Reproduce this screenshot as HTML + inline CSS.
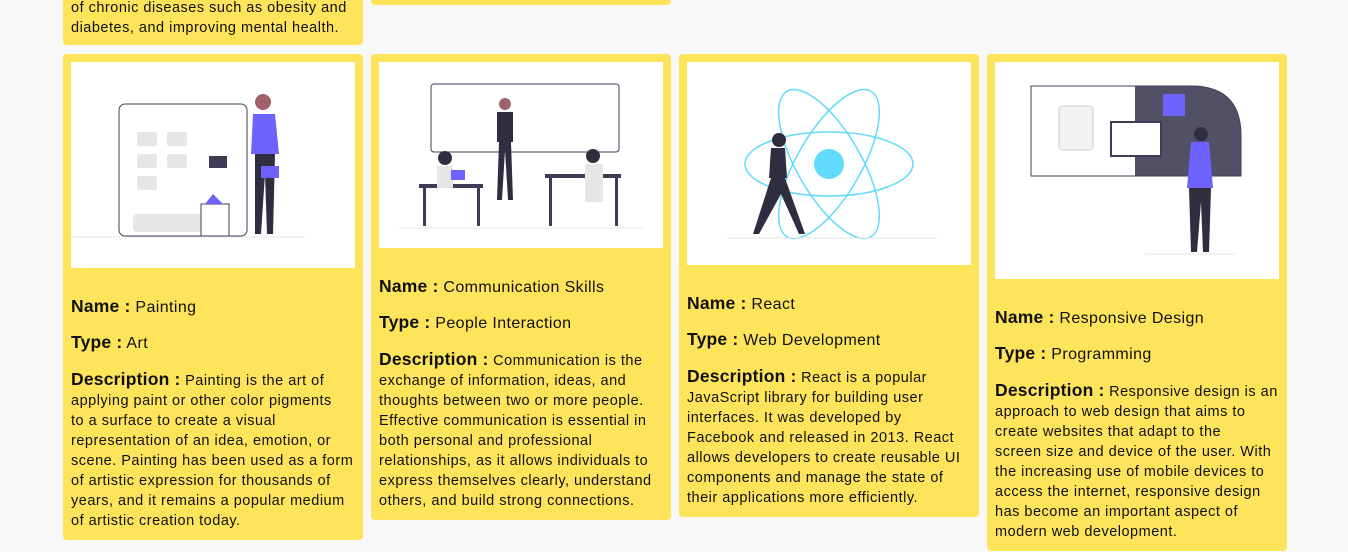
<!DOCTYPE html>
<html><head><meta charset="utf-8"><style>
body{margin:0;width:1348px;height:552px;background:#f8f8f8;overflow:hidden;position:relative;font-family:"Liberation Sans",sans-serif;color:#111;}
.card{position:absolute;background:#fde45a;border-radius:4px;width:300px;}
.img{position:absolute;left:8px;top:8px;width:284px;background:#fff;}
.row{position:absolute;left:8px;white-space:nowrap;font-size:16px;letter-spacing:0.4px}
.row b{font-size:17.5px;font-weight:bold;letter-spacing:0.2px}
.desc{position:absolute;left:8px;width:292px;font-size:14.5px;letter-spacing:0.5px;line-height:20px;white-space:nowrap;}
.desc b{font-size:17.5px;letter-spacing:0.2px}
.desc .f{height:23px;line-height:23px}
</style></head><body>
<div class="card" style="left:63px;top:-10px;height:55px">
 <div class="desc" style="top:8px">of chronic diseases such as obesity and<br>diabetes, and improving mental health.</div>
</div>
<div class="card" style="left:371px;top:-10px;height:15px"></div>

<div class="card" style="left:63px;top:54px;height:486px">
 <div class="img" style="height:206px">
  <svg width="284" height="206"><rect x="48" y="42" width="128" height="132" rx="6" fill="none" stroke="#3f3d56" stroke-width="1"/>
  <g fill="#e6e6e6"><rect x="66" y="70" width="20" height="14" rx="2"/><rect x="96" y="70" width="20" height="14" rx="2"/><rect x="66" y="92" width="20" height="14" rx="2"/><rect x="96" y="92" width="20" height="14" rx="2"/><rect x="66" y="114" width="20" height="14" rx="2"/><rect x="62" y="152" width="70" height="18" rx="4"/></g>
  <rect x="130" y="142" width="28" height="32" fill="#fff" stroke="#3f3d56"/><path d="M134 142 l8 -10 l10 10z" fill="#6c63ff"/>
  <circle cx="192" cy="40" r="8" fill="#a0616a"/><path d="M182 52 h22 l4 40 h-28z" fill="#6c63ff"/><path d="M184 92 h20 l-2 80 h-6 l-2 -60 l-4 60 h-6z" fill="#2f2e41"/>
  <rect x="138" y="94" width="18" height="12" fill="#3f3d56"/><rect x="190" y="104" width="18" height="12" fill="#6c63ff"/><line x1="0" y1="175" x2="234" y2="175" stroke="#e6e6e6"/></svg>
 </div>
 <div class="row" style="top:242px"><b>Name :</b> Painting</div>
 <div class="row" style="top:278px"><b>Type :</b> Art</div>
 <div class="desc" style="top:314px"><div class="f"><b>Description :</b> Painting is the art of</div>applying paint or other color pigments<br>to a surface to create a visual<br>representation of an idea, emotion, or<br>scene. Painting has been used as a form<br>of artistic expression for thousands of<br>years, and it remains a popular medium<br>of artistic creation today.</div>
</div>

<div class="card" style="left:371px;top:54px;height:466px">
 <div class="img" style="height:186px">
  <svg width="284" height="186"><rect x="52" y="22" width="188" height="68" rx="3" fill="none" stroke="#3f3d56"/>
  <circle cx="126" cy="42" r="6" fill="#a0616a"/><path d="M118 50 h16 v30 h-16z" fill="#2f2e41"/><path d="M120 80 h12 l2 58 h-5 l-3 -50 l-3 50 h-5z" fill="#2f2e41"/>
  <rect x="40" y="122" width="64" height="4" fill="#3f3d56"/><rect x="44" y="126" width="3" height="38" fill="#3f3d56"/><rect x="98" y="126" width="3" height="38" fill="#3f3d56"/>
  <circle cx="66" cy="96" r="7" fill="#2f2e41"/><path d="M58 104 h16 v22 h-16z" fill="#e6e6e6"/><rect x="72" y="108" width="14" height="10" fill="#6c63ff"/>
  <rect x="166" y="112" width="76" height="4" fill="#3f3d56"/><rect x="170" y="116" width="3" height="48" fill="#3f3d56"/><rect x="236" y="116" width="3" height="48" fill="#3f3d56"/>
  <circle cx="214" cy="94" r="7" fill="#2f2e41"/><path d="M206 102 h18 v38 h-18z" fill="#e6e6e6"/><line x1="20" y1="166" x2="264" y2="166" stroke="#e6e6e6"/></svg>
 </div>
 <div class="row" style="top:222px"><b>Name :</b> Communication Skills</div>
 <div class="row" style="top:258px"><b>Type :</b> People Interaction</div>
 <div class="desc" style="top:294px"><div class="f"><b>Description :</b> Communication is the</div>exchange of information, ideas, and<br>thoughts between two or more people.<br>Effective communication is essential in<br>both personal and professional<br>relationships, as it allows individuals to<br>express themselves clearly, understand<br>others, and build strong connections.</div>
</div>

<div class="card" style="left:679px;top:54px;height:463px">
 <div class="img" style="height:203px">
  <svg width="284" height="203"><g fill="none" stroke="#61dafb" stroke-width="1.5">
  <ellipse cx="142" cy="102" rx="84" ry="32"/><ellipse cx="142" cy="102" rx="84" ry="32" transform="rotate(60 142 102)"/><ellipse cx="142" cy="102" rx="84" ry="32" transform="rotate(-60 142 102)"/></g>
  <circle cx="142" cy="102" r="15" fill="#61dafb"/>
  <circle cx="92" cy="78" r="7" fill="#2f2e41"/><path d="M84 86 h14 l2 30 h-18z" fill="#2f2e41"/><path d="M84 116 h14 l20 56 h-6 l-18 -40 l-22 40 h-6z" fill="#2f2e41"/>
  <line x1="40" y1="176" x2="250" y2="176" stroke="#e6e6e6"/></svg>
 </div>
 <div class="row" style="top:239px"><b>Name :</b> React</div>
 <div class="row" style="top:275px"><b>Type :</b> Web Development</div>
 <div class="desc" style="top:311px"><div class="f"><b>Description :</b> React is a popular</div>JavaScript library for building user<br>interfaces. It was developed by<br>Facebook and released in 2013. React<br>allows developers to create reusable UI<br>components and manage the state of<br>their applications more efficiently.</div>
</div>

<div class="card" style="left:987px;top:54px;height:497px">
 <div class="img" style="height:217px">
  <svg width="284" height="217"><path d="M36 24 h160 q50 0 50 50 v40 h-210z" fill="none" stroke="#3f3d56"/><path d="M140 24 h56 q50 0 50 50 v40 h-106z" fill="#3f3d56" opacity=".9"/>
  <rect x="64" y="44" width="34" height="44" rx="4" fill="#f2f2f2" stroke="#ccc"/><rect x="116" y="60" width="50" height="34" fill="#fff" stroke="#3f3d56" stroke-width="2"/><rect x="168" y="32" width="22" height="22" fill="#6c63ff"/>
  <circle cx="206" cy="72" r="7" fill="#2f2e41"/><path d="M196 80 h18 l4 46 h-26z" fill="#6c63ff"/><path d="M194 126 h22 l-2 64 h-6 l-2 -50 l-4 50 h-6z" fill="#2f2e41"/><line x1="150" y1="192" x2="240" y2="192" stroke="#e6e6e6"/></svg>
 </div>
 <div class="row" style="top:253px"><b>Name :</b> Responsive Design</div>
 <div class="row" style="top:289px"><b>Type :</b> Programming</div>
 <div class="desc" style="top:325px"><div class="f"><b>Description :</b> Responsive design is an</div>approach to web design that aims to<br>create websites that adapt to the<br>screen size and device of the user. With<br>the increasing use of mobile devices to<br>access the internet, responsive design<br>has become an important aspect of<br>modern web development.</div>
</div>
</body></html>
